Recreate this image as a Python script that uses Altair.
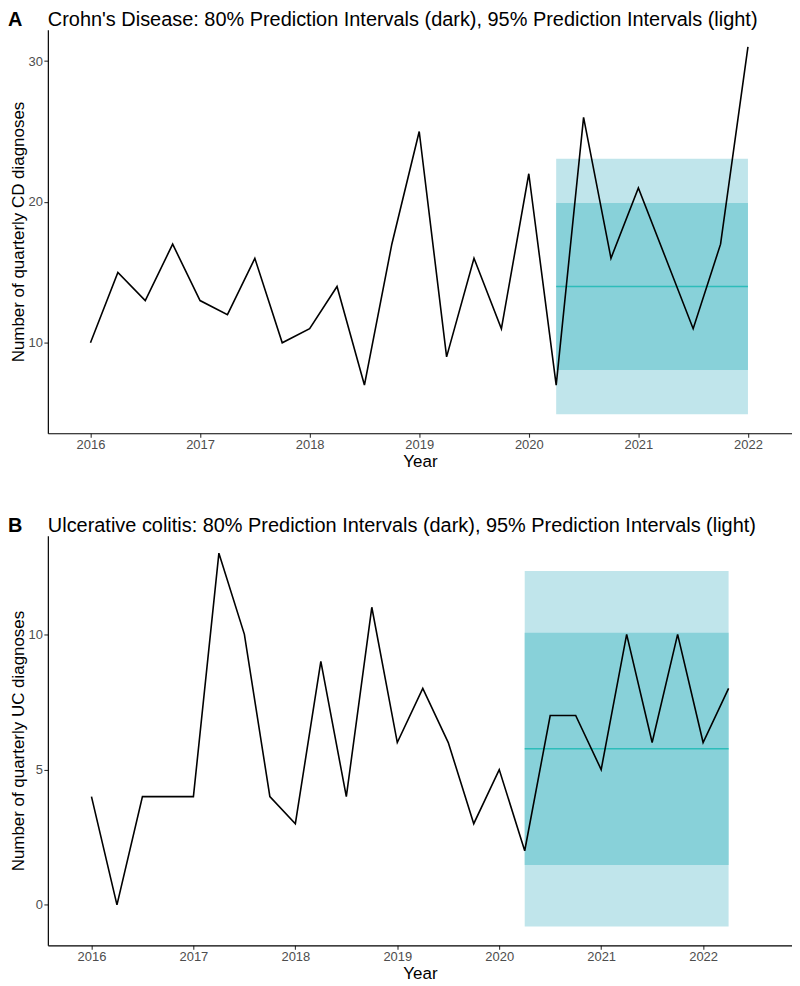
import altair as alt
import pandas as pd

FONT = "Liberation Sans"

# ---------- data ----------
years_ticks = [2016, 2017, 2018, 2019, 2020, 2021, 2022]

quarters_cd = [2016.0, 2016.25, 2016.5, 2016.75, 2017.0, 2017.25, 2017.5, 2017.75,
               2018.0, 2018.25, 2018.5, 2018.75, 2019.0, 2019.25, 2019.5, 2019.75,
               2020.0, 2020.25, 2020.5, 2020.75, 2021.0, 2021.25, 2021.5, 2021.75,
               2022.0]
cd_counts = [10, 15, 13, 17, 13, 12, 16, 10, 11, 14, 7, 17, 25, 9, 16, 11,
             22, 7, 26, 16, 21, 16, 11, 17, 31]

quarters_uc = [2016.0, 2016.25, 2016.5, 2016.75, 2017.0, 2017.25, 2017.5, 2017.75,
               2018.0, 2018.25, 2018.5, 2018.75, 2019.0, 2019.25, 2019.5, 2019.75,
               2020.0, 2020.25, 2020.5, 2020.75, 2021.0, 2021.25, 2021.5, 2021.75,
               2022.0, 2022.25]
uc_counts = [4, 0, 4, 4, 4, 13, 10, 4, 3, 9, 4, 11, 6, 8, 6, 3,
             5, 2, 7, 7, 5, 10, 6, 10, 6, 8]

cd_forecast = {"start": 2020.25, "end": 2022.0, "mean": 14.0,
               "lo80": 8.07, "hi80": 19.93, "lo95": 4.93, "hi95": 23.07}
uc_forecast = {"start": 2020.25, "end": 2022.25, "mean": 5.77,
               "lo80": 1.47, "hi80": 10.06, "lo95": -0.80, "hi95": 12.34}

LIGHT = "#C0E5EB"
DARK = "#88D1D9"
MEANC = "#2DBDBA"


def panel(letter, title, ytitle, xq, counts, fc, xdom, ydom, yticks, h):
    obs = pd.DataFrame({"Year": xq, "Count": counts})
    fdf = pd.DataFrame([fc])

    def xenc(field):
        return alt.X(field, type="quantitative",
                     scale=alt.Scale(domain=xdom, nice=False, zero=False),
                     axis=alt.Axis(values=years_ticks, format="d", title="Year"))

    def yenc(field):
        return alt.Y(field, type="quantitative",
                     scale=alt.Scale(domain=ydom, nice=False, zero=False),
                     axis=alt.Axis(values=yticks, format="d", title=ytitle))

    band95 = alt.Chart(fdf).mark_rect(color=LIGHT).encode(
        x=xenc("start"), x2="end", y=yenc("lo95"), y2="hi95")
    band80 = alt.Chart(fdf).mark_rect(color=DARK).encode(
        x=xenc("start"), x2="end", y=yenc("lo80"), y2="hi80")
    meanl = alt.Chart(fdf).mark_rule(color=MEANC, strokeWidth=1.6).encode(
        x=xenc("start"), x2="end", y=yenc("mean"))
    line = alt.Chart(obs).mark_line(color="black", strokeWidth=1.6).encode(
        x=xenc("Year"), y=yenc("Count"))
    heads = alt.Chart(pd.DataFrame({"letter": [letter], "title": [title]}))
    lab = heads.mark_text(
        align="left", baseline="middle", fontSize=20, fontWeight="bold",
        font=FONT, color="black").encode(
        x=alt.value(-40), y=alt.value(-10), text="letter:N")
    ttl = heads.mark_text(
        align="left", baseline="middle", fontSize=20, fontWeight="normal",
        font=FONT, color="black").encode(
        x=alt.value(0), y=alt.value(-10), text="title:N")

    return alt.layer(band95, band80, meanl, line, lab, ttl).properties(
        width=747, height=h)


pa = panel("A",
           "Crohn's Disease: 80% Prediction Intervals (dark), 95% Prediction Intervals (light)",
           "Number of quarterly CD diagnoses", quarters_cd, cd_counts, cd_forecast,
           [2015.611, 2022.402], [3.58, 32.22], [10, 20, 30], 405)
pb = panel("B",
           "Ulcerative colitis: 80% Prediction Intervals (dark), 95% Prediction Intervals (light)",
           "Number of quarterly UC diagnoses", quarters_uc, uc_counts, uc_forecast,
           [2015.572, 2022.872], [-1.494, 13.64], [0, 5, 10], 411)

chart = alt.vconcat(pa, pb, spacing=46).properties(padding=0).configure_view(
    stroke=None).configure_axis(
    grid=False, domainColor="black", domainWidth=1.2, tickColor="#333333",
    tickSize=4, tickWidth=1.1, labelColor="#4D4D4D", labelFontSize=13,
    labelFont=FONT, titleFont=FONT, titleFontSize=17, titleColor="black",
    titleFontWeight="normal", labelPadding=1.5
).configure_axisY(titlePadding=0).configure_axisX(titlePadding=2)

chart.save("out.html", embed_options={"renderer": "svg", "actions": False})
